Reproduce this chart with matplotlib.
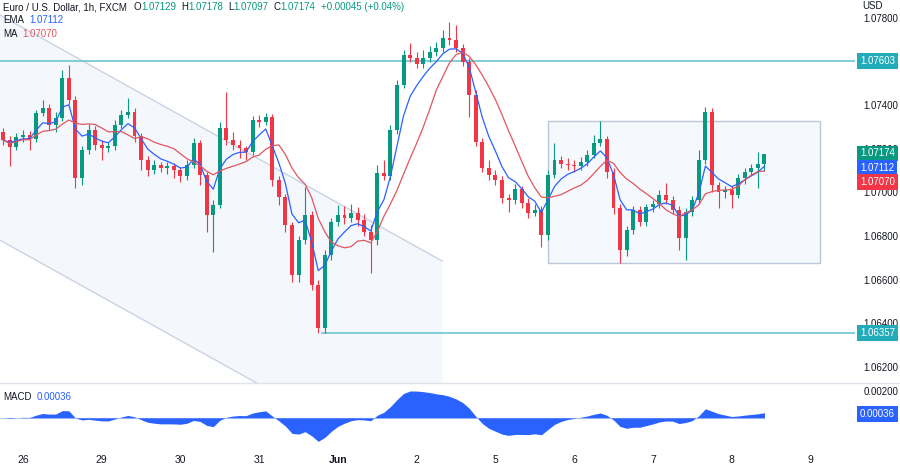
import numpy as np
import pandas as pd
import matplotlib
matplotlib.use("Agg")
import matplotlib.pyplot as plt
from matplotlib.patches import Polygon, Rectangle
from matplotlib.lines import Line2D

plt.rcParams["font.family"] = ["Liberation Sans", "DejaVu Sans"]

# EURUSD at 2h steps (bar 3 = start of May 26)
first_open = 1.07277
closes = [
    1.07240, 1.07208, 1.07254, 1.07263, 1.07245, 1.07364, 1.07387, 1.07309, 1.07341, 1.07525,
    1.07424, 1.07066, 1.07195, 1.07286, 1.07217, 1.07204, 1.07213, 1.07309, 1.07355, 1.07369,
    1.07259, 1.07149, 1.07103, 1.07126, 1.07112, 1.07121, 1.07103, 1.07075, 1.07126, 1.07227,
    1.07080, 1.06896, 1.06942, 1.07295, 1.07240, 1.07217, 1.07204, 1.07186, 1.07332, 1.07323,
    1.07346, 1.07057, 1.06979, 1.06850, 1.06621, 1.06782, 1.06896, 1.06575, 1.06378, 1.06713,
    1.06864, 1.06896, 1.06883, 1.06906, 1.06873, 1.06818, 1.06782, 1.07089, 1.07075, 1.07286,
    1.07493, 1.07630, 1.07617, 1.07589, 1.07617, 1.07644, 1.07662, 1.07708, 1.07699, 1.07662,
    1.07598, 1.07447, 1.07231, 1.07112, 1.07080, 1.07057, 1.06975, 1.06965, 1.07016, 1.06952,
    1.06906, 1.06919, 1.06805, 1.07080, 1.07149, 1.07130, 1.07126, 1.07121, 1.07140, 1.07172,
    1.07227, 1.07245, 1.07094, 1.06928, 1.06736, 1.06828, 1.06919, 1.06864, 1.06933, 1.06947,
    1.06988, 1.06965, 1.06919, 1.06791, 1.06910, 1.06965, 1.07149, 1.07369, 1.07034, 1.07002,
    1.07011, 1.06988, 1.07066, 1.07094, 1.07112, 1.07129, 1.07174,
]
highs = [
    1.07295, 1.07259, 1.07273, 1.07286, 1.07282, 1.07378, 1.07424, 1.07406, 1.07369, 1.07562,
    1.07584, 1.07442, 1.07213, 1.07314, 1.07305, 1.07240, 1.07231, 1.07332, 1.07378, 1.07433,
    1.07387, 1.07273, 1.07167, 1.07149, 1.07140, 1.07140, 1.07135, 1.07117, 1.07149, 1.07250,
    1.07240, 1.07094, 1.06965, 1.07323, 1.07461, 1.07277, 1.07240, 1.07213, 1.07351, 1.07355,
    1.07364, 1.07360, 1.07075, 1.06993, 1.06864, 1.06800, 1.07025, 1.06915, 1.06598, 1.06736,
    1.06883, 1.06942, 1.06938, 1.06947, 1.06933, 1.06901, 1.06850, 1.07126, 1.07149, 1.07309,
    1.07516, 1.07653, 1.07685, 1.07644, 1.07653, 1.07672, 1.07690, 1.07745, 1.07782, 1.07768,
    1.07681, 1.07617, 1.07470, 1.07250, 1.07149, 1.07103, 1.07075, 1.06993, 1.07039, 1.07029,
    1.06975, 1.06947, 1.06938, 1.07103, 1.07227, 1.07167, 1.07158, 1.07149, 1.07163, 1.07195,
    1.07263, 1.07328, 1.07259, 1.07112, 1.06947, 1.06846, 1.06938, 1.06938, 1.06947, 1.06965,
    1.07011, 1.07043, 1.06984, 1.06938, 1.06928, 1.06984, 1.07195, 1.07392, 1.07387, 1.07048,
    1.07029, 1.07029, 1.07084, 1.07112, 1.07130, 1.07186, 1.07178,
]
lows = [
    1.07217, 1.07121, 1.07195, 1.07231, 1.07195, 1.07231, 1.07351, 1.07286, 1.07277, 1.07328,
    1.07406, 1.07020, 1.07034, 1.07176, 1.07195, 1.07149, 1.07186, 1.07195, 1.07295, 1.07341,
    1.07231, 1.07103, 1.07075, 1.07084, 1.07094, 1.07084, 1.07066, 1.07048, 1.07057, 1.07112,
    1.07034, 1.06818, 1.06727, 1.06928, 1.07217, 1.07195, 1.07158, 1.07149, 1.07172, 1.07300,
    1.07309, 1.07029, 1.06942, 1.06818, 1.06589, 1.06589, 1.06763, 1.06552, 1.06355, 1.06355,
    1.06690, 1.06846, 1.06855, 1.06864, 1.06846, 1.06800, 1.06630, 1.06759, 1.07057, 1.07057,
    1.07268, 1.07479, 1.07598, 1.07571, 1.07571, 1.07598, 1.07626, 1.07644, 1.07676, 1.07644,
    1.07580, 1.07346, 1.07213, 1.07094, 1.07057, 1.07034, 1.06952, 1.06910, 1.06947, 1.06928,
    1.06883, 1.06892, 1.06750, 1.06782, 1.07066, 1.07112, 1.07103, 1.07094, 1.07103, 1.07121,
    1.07158, 1.07213, 1.07066, 1.06901, 1.06676, 1.06708, 1.06809, 1.06846, 1.06846, 1.06910,
    1.06928, 1.06947, 1.06901, 1.06736, 1.06690, 1.06892, 1.06947, 1.07130, 1.07002, 1.06928,
    1.06975, 1.06928, 1.06975, 1.07039, 1.07080, 1.07020, 1.07097,
]

day_labels = ["26", "29", "30", "31", "Jun", "2", "5", "6", "7", "8", "9"]
bars_per_day = 12
first_day_bar = 3
# 1.07600 sits under the 1.07603 level tag, so it is left out
price_ticks = [1.062, 1.064, 1.066, 1.068, 1.070, 1.072, 1.074, 1.078]

# drawings on the chart
resistance = 1.07603
support = 1.06357
support_start_bar = 48.6
range_bars = (83.0, 124.5)
range_prices = (1.06676, 1.07328)
channel_bars = (-0.5, 66.9)
channel_upper = (1.07814, 1.06685)
channel_lower = (1.06781, 1.05652)

legend_ohlc = ["1.07129", "1.07178", "1.07097", "1.07174"]
legend_change = "+0.00045 (+0.04%)"
ema_last, ma_last, macd_last = "1.07112", "1.07070", "0.00036"

UP, DOWN = "#089981", "#f23645"
EMA_C, MA_C = "#2962ff", "#e0565f"
LEVEL_C = "#6cc6cf"
TXT = "#131722"
FS = 7

W, H = 900, 465
c = np.array(closes)
o = np.r_[first_open, c[:-1]]
hi = np.array(highs)
lo = np.array(lows)
x = np.arange(len(c))
cols = np.where(c >= o, UP, DOWN)

ema = pd.Series(c).ewm(span=5, adjust=False).mean()
ma = pd.Series(c).rolling(10, min_periods=1).mean()
s = pd.Series(c)
macd = (s.ewm(span=6, adjust=False).mean() - s.ewm(span=13, adjust=False).mean()).values

fig = plt.figure(figsize=(W / 100, H / 100), dpi=100)
ax = fig.add_axes([0, 82 / H, 855 / W, 383 / H])
mx = fig.add_axes([0, 18 / H, 855 / W, 64 / H], sharex=ax)

# channel
poly = Polygon([(channel_bars[0], channel_upper[0]), (channel_bars[1], channel_upper[1]),
                (channel_bars[1], channel_lower[1]), (channel_bars[0], channel_lower[0])],
               closed=True, fc="#f4f7fc", ec="none", zorder=0)
ax.add_patch(poly)
ax.plot(channel_bars, channel_upper, color="#c9d3e3", lw=1, zorder=1)
ax.plot(channel_bars, channel_lower, color="#c9d3e3", lw=1, zorder=1)

# range box
ax.add_patch(Rectangle((range_bars[0], range_prices[0]), range_bars[1] - range_bars[0],
                       range_prices[1] - range_prices[0], fc="#f5f8fc", ec="#bcc8da", lw=1, zorder=1))

# levels
ax.axhline(resistance, color=LEVEL_C, lw=1.2, zorder=2)
ax.plot([support_start_bar, 200], [support, support], color=LEVEL_C, lw=1.2, zorder=2)

# candles
ax.vlines(x, lo, hi, colors=cols, lw=0.8, zorder=3)
ax.bar(x, np.maximum(np.abs(c - o), 0.00002), bottom=np.minimum(o, c), width=0.6,
       color=cols, lw=0, zorder=4)
ax.plot(x, ema, color=EMA_C, lw=0.9, zorder=5)
ax.plot(x, ma, color=MA_C, lw=0.9, zorder=5)

ax.set_xlim(-0.5, 129.8)
ax.set_ylim(1.061258, 1.078826)
ax.yaxis.tick_right()
ax.set_yticks(price_ticks)
ax.set_yticklabels([f"{p:.5f}" for p in price_ticks])
ax.tick_params(axis="y", length=0, pad=6, labelsize=FS, labelcolor=TXT)
ax.tick_params(axis="x", bottom=False, labelbottom=False)
for sp in ax.spines.values():
    sp.set_visible(False)


def tag(axis, y, text, bg, dy=0):
    axis.annotate(text, xy=(1.0, y), xycoords=("axes fraction", "data"), xytext=(5, dy),
                  textcoords="offset pixels", ha="left", va="center", fontsize=FS,
                  color="white", annotation_clip=False, zorder=10,
                  bbox=dict(boxstyle="square,pad=0.3", fc=bg, ec="none"))


tag(ax, resistance, f"{resistance:.5f}", "#22abb9")
tag(ax, support, f"{support:.5f}", "#22abb9")
tag(ax, c[-1], legend_ohlc[3], UP, dy=1)
tag(ax, float(ema_last), ema_last, EMA_C)
tag(ax, float(ma_last), ma_last, DOWN, dy=-5)

# MACD pane
mx.fill_between(x, macd, 0, color="#2962ff", lw=0, zorder=2)
mx.axhline(0, color="#c4d3f5", lw=0.8, xmax=(x[-1] + 0.5) / 130.3, zorder=1)
mx.set_ylim(-0.002179, 0.002597)
mx.yaxis.tick_right()
mx.set_yticks([0.002])
mx.set_yticklabels(["0.00200"])
mx.tick_params(axis="y", length=0, pad=6, labelsize=FS, labelcolor=TXT)
day_pos = [first_day_bar + k * bars_per_day for k in range(len(day_labels))]
mx.set_xticks(day_pos)
mx.set_xticklabels(day_labels)
mx.tick_params(axis="x", length=0, pad=6, labelsize=7.5, labelcolor=TXT)
for lab in mx.get_xticklabels():
    if lab.get_text() == "Jun":
        lab.set_fontweight("bold")
for sp in mx.spines.values():
    sp.set_visible(False)
tag(mx, 0.0, macd_last, EMA_C, dy=4)

fig.add_artist(Line2D([0, 1], [82 / H, 82 / H], color="#e0e3eb", lw=1))

renderer = fig.canvas.get_renderer()


def text_run(px, py, parts, size=FS):
    for txt, col, gap in parts:
        t = fig.text(px / W, 1 - py / H, txt, color=col, fontsize=size, ha="left", va="center")
        px += t.get_window_extent(renderer).width + gap


text_run(3, 7, [("Euro / U.S. Dollar, 1h, FXCM", TXT, 7),
                ("O", TXT, 0), (legend_ohlc[0], UP, 5),
                ("H", TXT, 0), (legend_ohlc[1], UP, 5),
                ("L", TXT, 0), (legend_ohlc[2], UP, 5),
                ("C", TXT, 0), (legend_ohlc[3], UP, 5),
                (legend_change, UP, 0)])
text_run(3, 20, [("EMA", TXT, 5), (ema_last, EMA_C, 0)])
text_run(3, 34, [("MA", TXT, 5), (ma_last, MA_C, 0)])
text_run(3, 397, [("MACD", TXT, 5), (macd_last, EMA_C, 0)])
fig.text(862 / W, 1 - 6 / H, "USD", color=TXT, fontsize=FS, ha="left", va="center")

fig.savefig("out.png", dpi=100, facecolor="white")
